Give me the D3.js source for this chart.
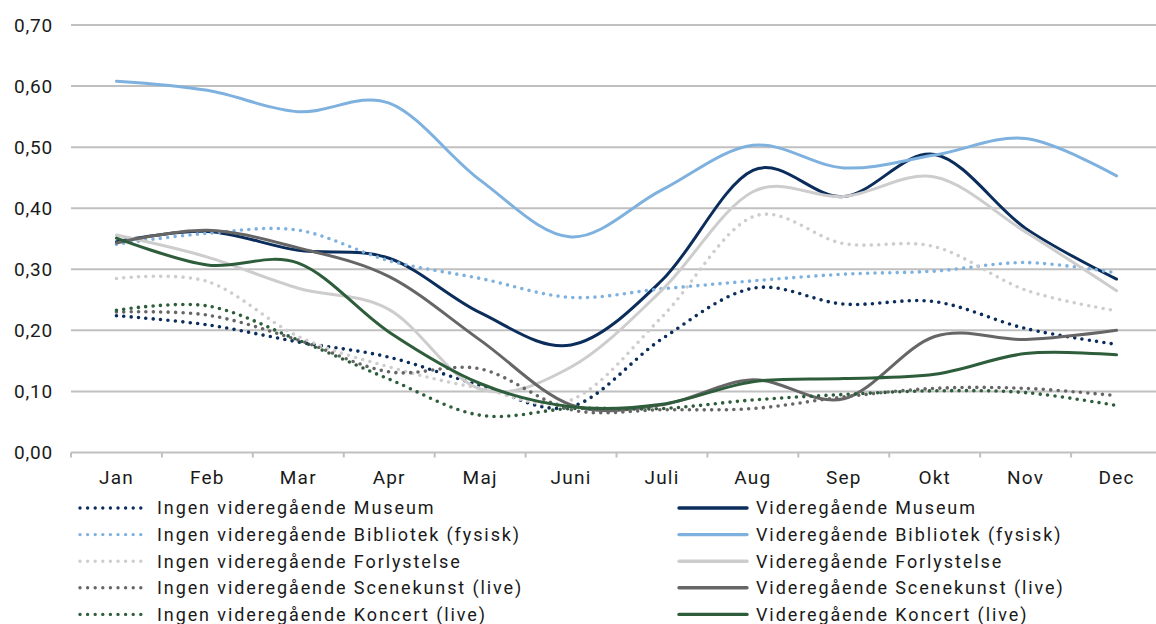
<!DOCTYPE html>
<html>
<head>
<meta charset="utf-8">
<script src="https://cdn.jsdelivr.net/npm/d3@7"></script>
<style>
  body { margin: 0; background: #fff; }
  svg text { font-family: Roboto, "DejaVu Sans", sans-serif; fill: #1a1a1a; }
</style>
</head>
<body>
<svg id="chart" width="1156" height="624"></svg>
<script>
// months on the category axis
var months = ["Jan","Feb","Mar","Apr","Maj","Juni","Juli","Aug","Sep","Okt","Nov","Dec"];
var yTicks = [0, 0.1, 0.2, 0.3, 0.4, 0.5, 0.6, 0.7];

// values
var ingenMuseum      = [0.224,0.209,0.181,0.156,0.110,0.075,0.186,0.269,0.243,0.247,0.203,0.177];
var vgMuseum         = [0.345,0.362,0.331,0.318,0.229,0.176,0.282,0.462,0.419,0.488,0.367,0.284];
var ingenBibliotek   = [0.341,0.359,0.364,0.314,0.285,0.254,0.268,0.281,0.292,0.297,0.311,0.294];
var vgBibliotek      = [0.608,0.593,0.558,0.572,0.446,0.353,0.430,0.503,0.466,0.487,0.514,0.453];
var ingenForlystelse = [0.285,0.280,0.190,0.140,0.105,0.086,0.222,0.386,0.342,0.337,0.266,0.232];
var vgForlystelse    = [0.356,0.320,0.269,0.234,0.104,0.140,0.266,0.427,0.419,0.451,0.361,0.265];
var ingenScenekunst  = [0.230,0.225,0.184,0.132,0.137,0.070,0.070,0.072,0.091,0.105,0.105,0.093];
var vgScenekunst     = [0.343,0.364,0.335,0.288,0.184,0.078,0.078,0.119,0.088,0.190,0.185,0.200];
var ingenKoncert     = [0.233,0.240,0.184,0.120,0.061,0.072,0.072,0.086,0.095,0.101,0.098,0.077];
var vgKoncert        = [0.351,0.307,0.310,0.197,0.113,0.075,0.079,0.116,0.121,0.128,0.162,0.160];

var series = [
  {name:"Ingen videregående Museum",            values:ingenMuseum,      color:"#0b2d5b", dotted:true},
  {name:"Videregående Museum",                  values:vgMuseum,         color:"#0b2d5b", dotted:false},
  {name:"Ingen videregående Bibliotek (fysisk)",values:ingenBibliotek,   color:"#7fb1df", dotted:true},
  {name:"Videregående Bibliotek (fysisk)",      values:vgBibliotek,      color:"#7fb1df", dotted:false},
  {name:"Ingen videregående Forlystelse",       values:ingenForlystelse, color:"#cdcdcd", dotted:true},
  {name:"Videregående Forlystelse",             values:vgForlystelse,    color:"#cdcdcd", dotted:false},
  {name:"Ingen videregående Scenekunst (live)", values:ingenScenekunst,  color:"#666666", dotted:true},
  {name:"Videregående Scenekunst (live)",       values:vgScenekunst,     color:"#666666", dotted:false},
  {name:"Ingen videregående Koncert (live)",    values:ingenKoncert,     color:"#2e5d3b", dotted:true},
  {name:"Videregående Koncert (live)",          values:vgKoncert,        color:"#2e5d3b", dotted:false}
];

var svg = d3.select("#chart");

var x = d3.scaleBand().domain(months).range([71, 1162]).padding(0);
var y = d3.scaleLinear().domain([0, 0.7]).range([452.5, 25]);
var fmt = function(d){ return d3.format(".2f")(d).replace(".", ","); };

// gridlines
svg.append("g").selectAll("line")
  .data(yTicks.filter(function(d){ return d > 0; }))
  .enter().append("line")
    .attr("x1", 71).attr("x2", 1156)
    .attr("y1", function(d){ return y(d); })
    .attr("y2", function(d){ return y(d); })
    .attr("stroke", "#c0c0c0")
    .attr("stroke-width", 2);

// y axis labels
var yAxis = d3.axisLeft(y).tickValues(yTicks).tickFormat(fmt).tickSize(0).tickPadding(0);
var gy = svg.append("g").attr("transform", "translate(53,0)").call(yAxis);
gy.select(".domain").remove();
gy.selectAll("text").attr("font-size", 19).attr("letter-spacing", 0.8).attr("fill", "#1a1a1a");

// x axis
var xAxis = d3.axisBottom(x).tickSize(0).tickPadding(18);
var gx = svg.append("g").attr("transform", "translate(0," + y(0) + ")").call(xAxis);
gx.select(".domain").remove();
gx.selectAll("text").attr("font-size", 19).attr("letter-spacing", 1.2).attr("fill", "#1a1a1a");
svg.append("line")
  .attr("x1", 71).attr("x2", 1156)
  .attr("y1", y(0)).attr("y2", y(0))
  .attr("stroke", "#c0c0c0").attr("stroke-width", 2);
svg.append("g").selectAll("line")
  .data(months)
  .enter().append("line")
    .attr("x1", function(d){ return x(d); })
    .attr("x2", function(d){ return x(d); })
    .attr("y1", y(0)).attr("y2", y(0) + 5)
    .attr("stroke", "#c0c0c0").attr("stroke-width", 2);

// lines
var line = d3.line()
  .x(function(d, i){ return x(months[i]) + x.bandwidth() / 2; })
  .y(function(d){ return y(d); })
  .curve(d3.curveCardinal.tension(0));

svg.append("g").selectAll("path")
  .data(series)
  .enter().append("path")
    .attr("d", function(s){ return line(s.values); })
    .attr("fill", "none")
    .attr("stroke", function(s){ return s.color; })
    .attr("stroke-width", function(s){ return s.dotted ? 3.6 : 3; })
    .attr("stroke-linecap", "round")
    .attr("stroke-dasharray", function(s){ return s.dotted ? "0 7.4" : null; });

// legend, two columns, row-wise
var legend = svg.append("g");
var item = legend.selectAll("g")
  .data(series)
  .enter().append("g")
    .attr("transform", function(s, i){
      var col = i % 2, row = Math.floor(i / 2);
      return "translate(" + (col ? 679 : 80) + "," + (508 + row * 26.6) + ")";
    });
item.append("line")
  .attr("x1", 0).attr("x2", 68)
  .attr("stroke", function(s){ return s.color; })
  .attr("stroke-width", function(s){ return s.dotted ? 3.4 : 3.4; })
  .attr("stroke-linecap", "round")
  .attr("stroke-dasharray", function(s){ return s.dotted ? "0 7.6" : null; });
item.append("text")
  .attr("x", 77).attr("dy", "0.36em")
  .attr("font-size", 18)
  .attr("letter-spacing", 1.9)
  .text(function(s){ return s.name; });
</script>
</body>
</html>
